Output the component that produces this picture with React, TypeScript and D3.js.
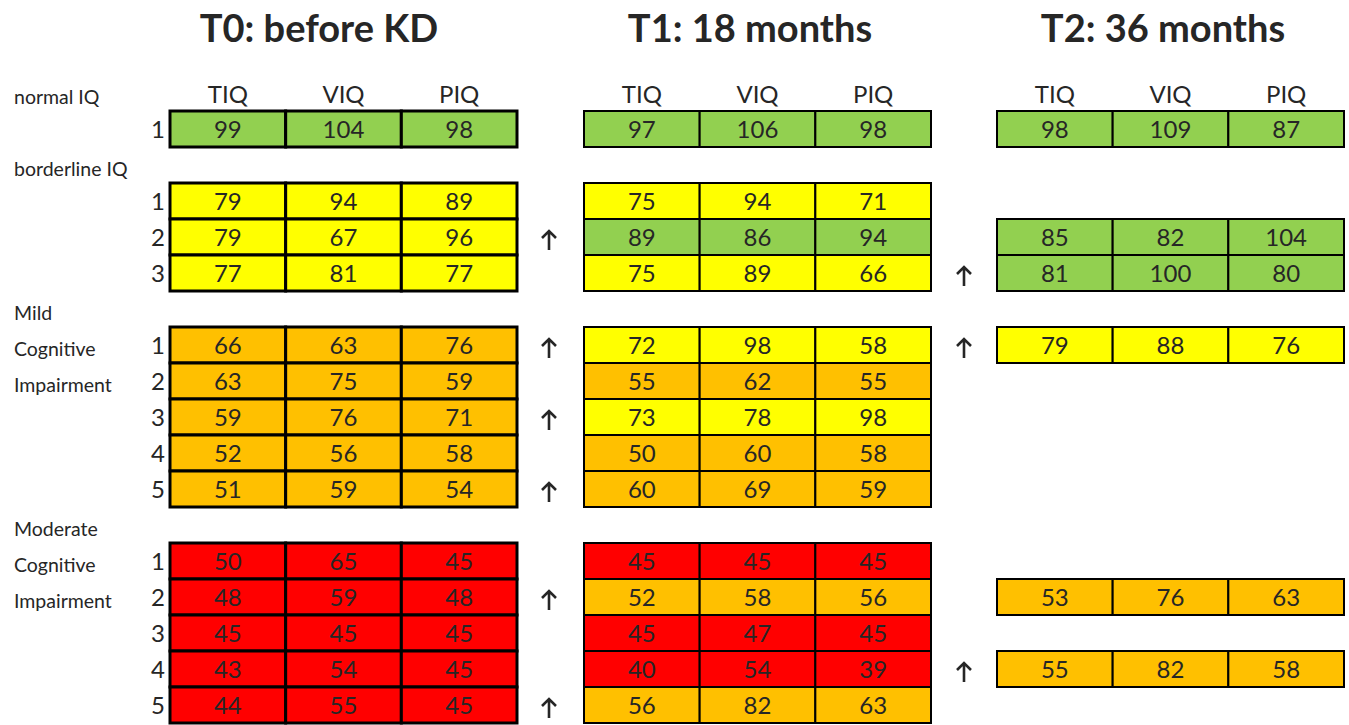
import * as d3 from 'd3'

const WIDTH = 1349
const HEIGHT = 725

const TITLES = ['T0: before KD', 'T1: 18 months', 'T2: 36 months']
const MEASURES = ['TIQ', 'VIQ', 'PIQ']

// row slots: 0 header, then groups with a label slot before each
const GROUP_LABELS = [['normal IQ'], ['borderline IQ'], ['Mild', 'Cognitive', 'Impairment'], ['Moderate', 'Cognitive', 'Impairment']]
const GROUP_SIZES = [1, 3, 5, 5]

// class per patient row: N normal, B borderline, M mild, D moderate
const T0_VALUES = [
  [99, 104, 98],
  [79, 94, 89], [79, 67, 96], [77, 81, 77],
  [66, 63, 76], [63, 75, 59], [59, 76, 71], [52, 56, 58], [51, 59, 54],
  [50, 65, 45], [48, 59, 48], [45, 45, 45], [43, 54, 45], [44, 55, 45],
]
const T0_CLASS = ['N', 'B', 'B', 'B', 'M', 'M', 'M', 'M', 'M', 'D', 'D', 'D', 'D', 'D']

const T1_VALUES = [
  [97, 106, 98],
  [75, 94, 71], [89, 86, 94], [75, 89, 66],
  [72, 98, 58], [55, 62, 55], [73, 78, 98], [50, 60, 58], [60, 69, 59],
  [45, 45, 45], [52, 58, 56], [45, 47, 45], [40, 54, 39], [56, 82, 63],
]
const T1_CLASS = ['N', 'B', 'N', 'B', 'B', 'M', 'B', 'M', 'M', 'D', 'M', 'D', 'D', 'M']

const T2_VALUES = [
  [98, 109, 87],
  null, [85, 82, 104], [81, 100, 80],
  [79, 88, 76], null, null, null, null,
  null, [53, 76, 63], null, [55, 82, 58], null,
]
const T2_CLASS = ['N', null, 'N', 'N', 'B', null, null, null, null, null, 'M', null, 'M', null]

// improvement arrows between T0->T1 and T1->T2
const ARROWS_T0_T1 = [false, false, true, false, true, false, true, false, true, false, true, false, false, true]
const ARROWS_T1_T2 = [false, false, false, true, true, false, false, false, false, false, false, false, true, false]

const COLORS: Record<string, string> = { N: '#92d050', B: '#ffff00', M: '#ffc000', D: '#ff0000' }

const FONT = 'Lato, "Open Sans", sans-serif'
const TEXT = '#262626'

export default function App() {
  // slot index for each patient row + label slots
  const rowSlots: number[] = []
  const rowNumbers: number[] = []
  const labelSlots: number[] = []
  let slot = 0
  GROUP_SIZES.forEach((n, g) => {
    labelSlots.push(g === 0 ? 0 : slot)
    if (g !== 0) slot++
    else slot = 1
    for (let i = 0; i < n; i++) {
      rowSlots.push(slot++)
      rowNumbers.push(i + 1)
    }
  })

  const y = d3.scaleBand<number>().domain(d3.range(18)).range([75, 723])
  const tableX = [170, 584, 997]
  const tableW = 347
  const titleX = [319, 750, 1163]
  const arrowX = [549, 964]

  const tables = [
    { values: T0_VALUES, cls: T0_CLASS, stroke: 3 },
    { values: T1_VALUES, cls: T1_CLASS, stroke: 2 },
    { values: T2_VALUES, cls: T2_CLASS, stroke: 2 },
  ]

  const mid = (s: number) => y(s)! + y.bandwidth() / 2

  return (
    <svg width={WIDTH} height={HEIGHT} style={{ position: 'absolute', left: 0, top: 0, background: '#fff' }} fontFamily={FONT}>
      {tables.map((t, ti) => {
        const x = d3.scaleBand<string>().domain(MEASURES).range([tableX[ti], tableX[ti] + tableW])
        return (
          <g key={ti}>
            <text x={titleX[ti]} y={42} textAnchor="middle" fontSize={38} fontWeight="bold" fill={TEXT}>
              {TITLES[ti]}
            </text>
            {MEASURES.map(m => (
              <text key={m} x={x(m)! + x.bandwidth() / 2} y={mid(0) + 10} textAnchor="middle" fontSize={24} fill={TEXT}>
                {m}
              </text>
            ))}
            {t.values.map((row, r) => row && (
              <g key={r}>
                {row.map((v, c) => (
                  <g key={c}>
                    <rect
                      x={x(MEASURES[c])!}
                      y={y(rowSlots[r])!}
                      width={x.bandwidth()}
                      height={y.bandwidth()}
                      fill={COLORS[t.cls[r] as string]}
                      stroke="#000"
                      strokeWidth={t.stroke}
                    />
                    <text
                      x={x(MEASURES[c])! + x.bandwidth() / 2}
                      y={mid(rowSlots[r]) + 9}
                      textAnchor="middle"
                      fontSize={24}
                      fill={TEXT}
                    >
                      {v}
                    </text>
                  </g>
                ))}
              </g>
            ))}
          </g>
        )
      })}

      {/* row numbers */}
      {rowSlots.map((s, i) => (
        <text key={i} x={165} y={mid(s) + 9} textAnchor="end" fontSize={24} fill={TEXT}>
          {rowNumbers[i]}
        </text>
      ))}

      {/* group labels */}
      {GROUP_LABELS.map((lines, g) => lines.map((l, k) => (
        <text key={`${g}-${k}`} x={14} y={mid(labelSlots[g] + k) + 11} fontSize={19.5} fill={TEXT}>
          {l}
        </text>
      )))}

      {/* arrows */}
      {[ARROWS_T0_T1, ARROWS_T1_T2].map((arr, a) => arr.map((on, r) => {
        if (!on) return null
        const cx = arrowX[a]
        const cy = mid(rowSlots[r]) + 3
        return (
          <path
            key={`${a}-${r}`}
            d={`M${cx},${cy + 10}V${cy - 9}M${cx - 7},${cy - 2}L${cx},${cy - 9}L${cx + 7},${cy - 2}`}
            fill="none"
            stroke={TEXT}
            strokeWidth={2.6}
          />
        )
      }))}
    </svg>
  )
}
